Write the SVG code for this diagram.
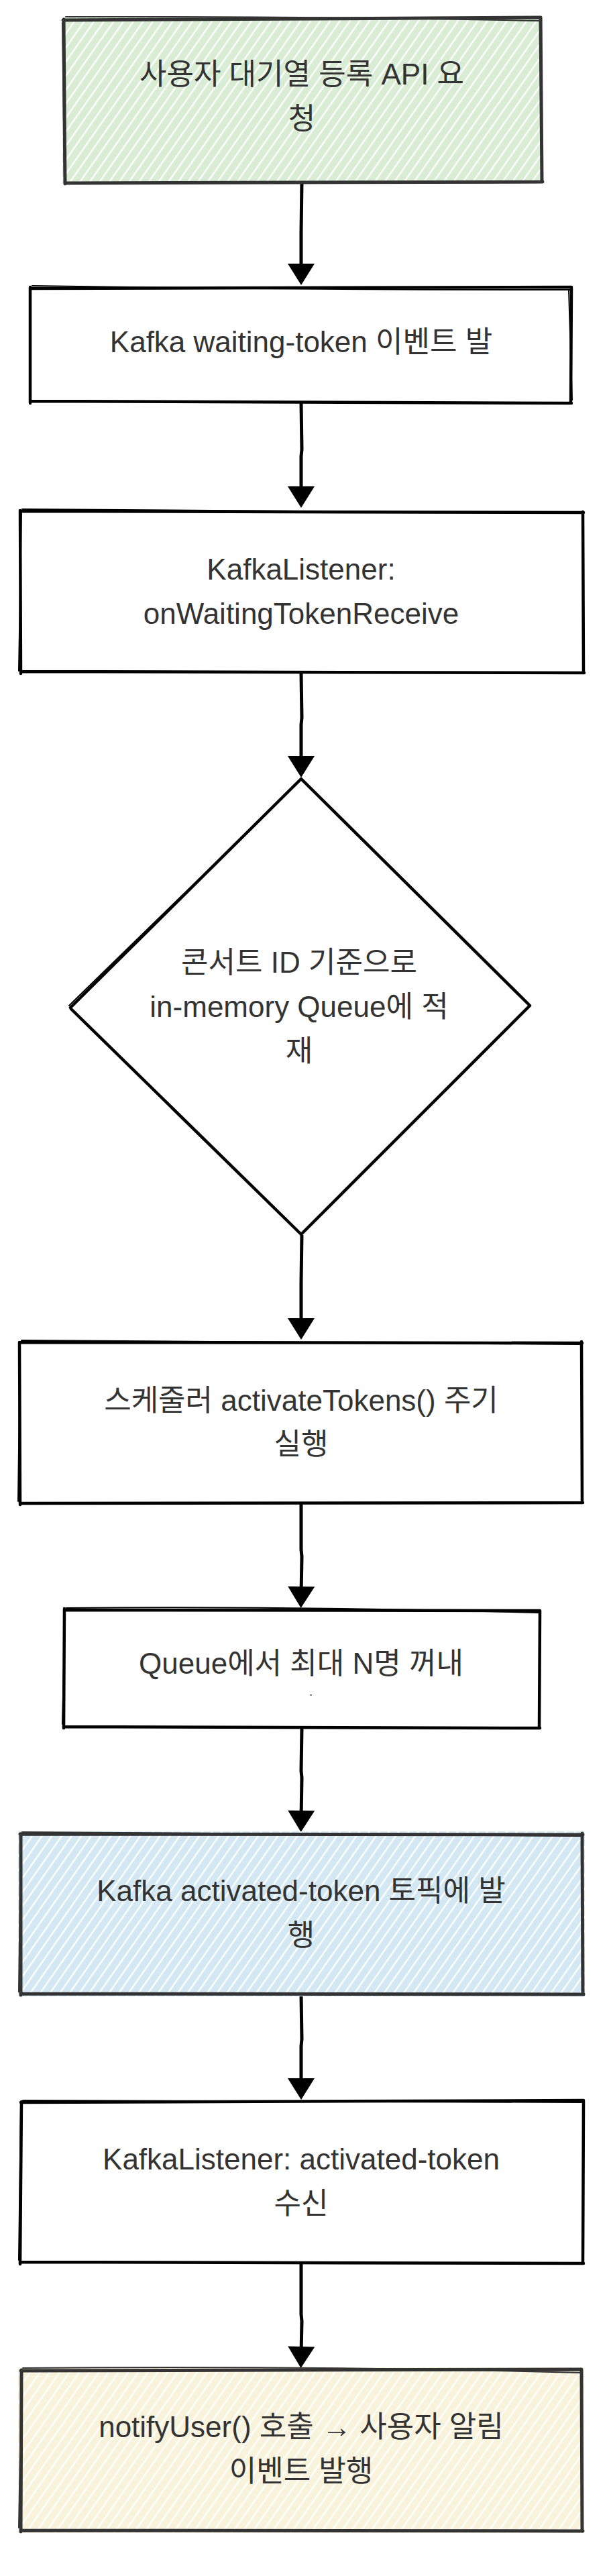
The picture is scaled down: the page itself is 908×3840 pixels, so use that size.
<svg xmlns="http://www.w3.org/2000/svg" width="908" height="3840" viewBox="0 0 908 3840">
<defs>
<style>
.t{font-family:"Liberation Sans","Noto Sans CJK KR",sans-serif;font-size:44px;fill:#333;text-anchor:middle}
.e{fill:none;stroke:#000;stroke-width:4.5;stroke-linecap:round;stroke-linejoin:round}
.e2{fill:none;stroke:#000;stroke-width:2;stroke-linecap:round}
.ce{fill:none;stroke:#333;stroke-width:5;stroke-linecap:round;stroke-linejoin:round}
.ce2{fill:none;stroke:#333;stroke-width:2;stroke-linecap:round}
.conn{fill:none;stroke:#000;stroke-width:5}
</style>
<pattern id="hg" patternUnits="userSpaceOnUse" width="12" height="12" patternTransform="rotate(35)">
<rect width="12" height="12" fill="#d9edd5"/><rect width="2.3" height="12" fill="#fff"/>
</pattern>
<pattern id="hb" patternUnits="userSpaceOnUse" width="12" height="12" patternTransform="rotate(35)">
<rect width="12" height="12" fill="#d3e8f3"/><rect width="2.3" height="12" fill="#fff"/>
</pattern>
<pattern id="hy" patternUnits="userSpaceOnUse" width="12" height="12" patternTransform="rotate(35)">
<rect width="12" height="12" fill="#f9f3dc"/><rect width="2.3" height="12" fill="#fff"/>
</pattern>
<marker id="ah" markerUnits="userSpaceOnUse" markerWidth="34" markerHeight="42" refX="12" refY="20" orient="auto" overflow="visible">
<path d="M0,0 L32,20 L0,40 Z" fill="#000"/>
</marker>
</defs>
<rect width="908" height="3840" fill="#fff"/>

<g id="connectors">
<path class="conn" marker-end="url(#ah)" d="M450,272 L449,345 L449,405"/>
<path class="conn" marker-end="url(#ah)" d="M449,601 L450,670 L449,680 L449,737"/>
<path class="conn" marker-end="url(#ah)" d="M449,1004 L450,1070 L449,1080 L449,1139"/>
<path class="conn" marker-end="url(#ah)" d="M450,1841 L449,1910 L449,1977"/>
<path class="conn" marker-end="url(#ah)" d="M449,2242 L449,2310 L450,2320 L449,2377"/>
<path class="conn" marker-end="url(#ah)" d="M450,2577 L449,2640 L450,2650 L449,2711"/>
<path class="conn" marker-end="url(#ah)" d="M449,2974 L450,3040 L449,3050 L449,3110"/>
<path class="conn" marker-end="url(#ah)" d="M449,3375 L449,3450 L450,3460 L449,3510"/>
</g>

<g id="n1-register-request">
<rect x="93" y="25" width="716" height="249" fill="url(#hg)"/>
<path class="ce" d="M94,30 L806,26 M806,27 L808,271 M809,271 L97,273 M97,274 L95,29"/>
<path class="ce2" d="M98,25 Q450,24 804,31 M93,34 L96,268"/>
<text class="t" x="450" y="126">사용자 대기열 등록 API 요</text>
<text class="t" x="450" y="192">청</text>
</g>

<g id="n2-kafka-waiting-token">
<path class="e" d="M45,430 L852,428 M852,429 L851,600 M852,601 L46,598 M45,601 L45,428"/>
<path class="e2" d="M48,426 Q450,432 850,432 M848,432 L853,596"/>
<text class="t" x="449" y="525">Kafka waiting-token 이벤트 발</text>
</g>

<g id="n3-kafka-listener">
<path class="e" d="M30,762 L870,764 M869,763 L870,1003 M871,1003 L32,1001 M31,1004 L30,761"/>
<path class="e2" d="M33,759 L866,765 M28,1000 L32,765"/>
<text class="t" x="449" y="864">KafkaListener:</text>
<text class="t" x="449" y="930">onWaitingTokenReceive</text>
</g>

<g id="n4-enqueue">
<path class="e" d="M449,1161 L105,1502 M106,1504 L449,1840 M449,1840 L790,1499 M788,1497 L450,1162"/>
<path class="e2" d="M452,1836 L786,1503 M103,1499 L447,1164"/>
<text class="t" x="446" y="1450">콘서트 ID 기준으로</text>
<text class="t" x="446" y="1516">in-memory Queue에 적</text>
<text class="t" x="446" y="1582">재</text>
</g>

<g id="n5-scheduler">
<path class="e" d="M29,2001 L868,2002 M867,2000 L868,2240 M869,2240 L31,2241 M30,2243 L29,2001"/>
<path class="e2" d="M32,1998 L866,2004 M27,2238 L30,2004"/>
<text class="t" x="449" y="2103">스케줄러 activateTokens() 주기</text>
<text class="t" x="449" y="2168">실행</text>
</g>

<g id="n6-dequeue">
<path class="e" d="M96,2400 L805,2401 M805,2401 L804,2575 M805,2576 L97,2574 M95,2576 L96,2398"/>
<path class="e2" d="M99,2397 Q450,2394 803,2404 M93,2570 L97,2403"/>
<text class="t" x="449" y="2495">Queue에서 최대 N명 꺼내</text>
<rect x="462" y="2526" width="3" height="1.5" fill="#555"/>
</g>

<g id="n7-publish-activated">
<rect x="27" y="2730" width="845" height="246" fill="url(#hb)"/>
<path class="ce" d="M30,2734 L869,2735 M868,2733 L869,2973 M870,2973 L32,2972 M31,2974 L31,2734"/>
<path class="ce2" d="M33,2731 L866,2737 M28,2969 L31,2738"/>
<text class="t" x="449" y="2834">Kafka activated-token 토픽에 발</text>
<text class="t" x="449" y="2900">행</text>
</g>

<g id="n8-listener-activated">
<path class="e" d="M31,3134 L870,3131 M870,3132 L869,3373 M870,3374 L30,3372 M30,3375 L32,3133"/>
<path class="e2" d="M34,3131 L867,3134 M28,3369 L31,3137"/>
<text class="t" x="449" y="3234">KafkaListener: activated-token</text>
<text class="t" x="449" y="3300">수신</text>
</g>

<g id="n9-notify-user">
<rect x="27" y="3529" width="843" height="247" fill="url(#hy)"/>
<path class="ce" d="M31,3534 L867,3532 M867,3533 L868,3772 M869,3773 L31,3772 M31,3774 L32,3533"/>
<path class="ce2" d="M34,3530 Q450,3526 865,3537 M28,3768 L32,3538"/>
<text class="t" x="449" y="3633">notifyUser() 호출 → 사용자 알림</text>
<text class="t" x="449" y="3699">이벤트 발행</text>
</g>
</svg>
